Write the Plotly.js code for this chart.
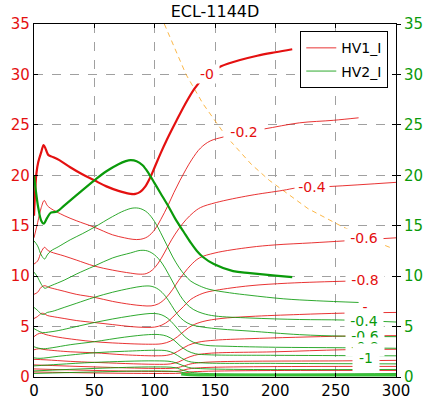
<!DOCTYPE html>
<html><head><meta charset="utf-8">
<script src="https://cdn.plot.ly/plotly-3.0.1.min.js"></script>
<style>html,body{margin:0;padding:0;background:#fff}#chart{width:426px;height:399px}</style>
</head><body><div id="chart"></div>
<script>
// ---- data ----
const xTicks = [0, 50, 100, 150, 200, 250, 300];
const yTicks = [0, 5, 10, 15, 20, 25, 30, 35];

// HV1_I (red) branches
const r0x = [0,1,2,3.5,6,8,10,12,16,21,30,40,50,60,70,76,80,84,88,92,96,100,105,110,118,125,133,140,148,155,170,185,200,214];
const r0y = [16,18.5,20.2,21.3,22.3,23.0,22.5,22.0,21.8,21.5,20.8,20.1,19.5,18.9,18.45,18.25,18.15,18.15,18.35,18.85,19.7,20.8,22.2,23.5,25.4,27.0,28.6,29.6,30.3,30.8,31.4,31.85,32.2,32.5];
const r1x = [0,3,6,8.5,11,14,25,35,50,65,75,82,88,94,100,105,111,116,121,126,131,138,146,157,174,191,220,248,269];
const r1y = [13.8,15.3,16.8,17.5,17.0,16.7,16.0,15.5,14.85,14.1,13.8,13.65,13.65,13.9,14.6,15.6,17.0,18.3,19.5,20.6,21.6,22.7,23.4,23.8,24.3,24.6,25.2,25.45,25.7];
const r2x = [0,3,6,8.8,11,14,25,35,50,65,80,87,93,98,103,108,114,120,126,132,138,151,179,206,218,247,300];
const r2y = [11.2,11.5,12.4,12.86,12.6,12.4,12.0,11.6,11.0,10.6,10.3,10.2,10.25,10.6,11.3,12.3,13.6,14.7,15.6,16.3,16.8,17.3,18.0,18.5,18.75,18.9,19.3];
const r3x = [0,3,6,9,12,15,25,35,50,65,80,90,97,103,109,115,120,125,130,137,150,179,200,230,258,300];
const r3y = [8.2,8.4,8.9,9.05,8.9,8.8,8.5,8.2,7.9,7.5,7.2,7.07,7.05,7.25,7.8,8.7,9.6,10.4,11.1,11.8,12.3,12.86,13.1,13.3,13.5,13.8];
const r4x = [0,3,6,8,11,15,25,35,50,65,80,92,100,106,112,118,124,130,140,151,179,210,258,280];
const r4y = [5.8,6.0,6.3,6.3,6.1,6.0,5.8,5.6,5.4,5.2,5.0,4.92,4.95,5.15,5.6,6.3,7.0,7.7,8.3,8.6,9.05,9.3,9.5,9.55];
const r5x = [0,3,6,10,20,35,50,70,95,106,113,119,125,131,140,155,179,220,256,300];
const r5y = [4.0,4.25,4.35,4.2,3.95,3.7,3.5,3.35,3.25,3.3,3.55,4.0,4.6,5.1,5.5,5.8,6.0,6.2,6.33,6.4];
const r6x = [0,4,10,30,50,75,100,110,116,122,128,136,150,179,256,300];
const r6y = [2.7,2.8,2.7,2.5,2.4,2.2,2.1,2.15,2.35,2.75,3.15,3.45,3.65,3.8,4.05,4.1];
const r7x = [0,10,30,50,100,113,120,126,133,145,200,256,300];
const r7y = [1.75,1.7,1.55,1.45,1.26,1.3,1.5,1.85,2.15,2.35,2.5,2.7,2.75];
const r8x = [0,50,100,116,123,130,145,256,300];
const r8y = [1.2,1.0,0.85,0.88,1.05,1.3,1.48,1.6,1.65];
const r9x = [0,50,100,120,128,140,300];
const r9y = [0.8,0.65,0.55,0.58,0.8,0.93,1.05];
const r10x = [0,50,100,122,132,300];
const r10y = [0.5,0.4,0.35,0.38,0.52,0.65];

// HV2_I (green) branches
const g0x = [0,1.5,3.5,6,8,11,14,19,25,35,50,60,70,76,80,85,90,95,100,105,111,117,124,130,135,140,149,165,179,200,214];
const g0y = [20,18.5,16.8,15.5,15.2,15.8,16.3,16.4,17.0,18.0,19.5,20.4,21.1,21.4,21.5,21.4,21.0,20.2,19.2,18.2,17.0,15.7,14.4,13.3,12.5,11.9,11.2,10.5,10.3,10.05,9.9];
const g1x = [0,3,6,8.8,11,14,20,30,40,50,65,75,82,88,94,100,105,110,115,120,125,130,137,145,162,179,207,234,269];
const g1y = [13.5,13.0,12.1,11.7,12.1,12.5,12.9,13.6,14.2,14.85,15.9,16.5,16.75,16.7,16.3,15.4,14.3,13.1,11.9,10.9,10.1,9.5,9.05,8.7,8.35,8.1,7.75,7.56,7.39];
const g2x = [0,3,6,9,12,15,25,35,50,65,80,88,94,100,106,111,116,121,126,132,140,150,179,220,256,300];
const g2y = [10.4,9.9,9.2,8.8,8.95,9.1,9.6,10.2,11.0,11.8,12.3,12.55,12.5,12.1,11.3,10.3,9.2,8.1,7.3,6.7,6.3,6.05,5.85,5.7,5.65,5.45];
const g3x = [0,3,6,8,11,15,25,35,50,65,80,90,97,103,109,114,119,124,130,140,155,179,220,256,300];
const g3y = [6.9,6.6,6.25,6.2,6.4,6.5,6.9,7.3,7.9,8.4,8.8,9.0,9.0,8.7,8.0,7.1,6.2,5.6,5.2,4.95,4.75,4.55,4.2,4.05,4.0];
const g4x = [0,3,7,12,20,35,50,65,80,92,100,106,111,116,121,126,132,142,160,200,256,300];
const g4y = [4.8,4.6,4.4,4.45,4.6,5.0,5.4,5.75,6.05,6.25,6.3,6.15,5.8,5.2,4.5,3.9,3.45,3.15,3.05,2.95,2.9,2.85];
const g5x = [0,4,8,15,30,50,75,95,104,110,116,121,127,134,145,200,300];
const g5y = [3.0,2.85,2.8,2.9,3.2,3.5,3.95,4.2,4.2,4.05,3.65,3.1,2.6,2.3,2.2,2.15,2.1];
const g6x = [0,5,20,50,75,100,110,116,122,128,140,200,300];
const g6y = [1.9,1.85,2.05,2.4,2.55,2.65,2.6,2.35,1.9,1.55,1.4,1.35,1.3];
const g7x = [0,20,50,100,114,121,128,140,300];
const g7y = [1.1,1.25,1.45,1.6,1.52,1.25,0.95,0.82,0.75];
const g8x = [0,50,100,117,124,133,300];
const g8y = [0.6,0.85,1.0,0.92,0.65,0.42,0.35];
const g9x = [0,50,100,120,128,140,300];
const g9y = [0.35,0.5,0.6,0.52,0.32,0.22,0.2];
const g10x = [122,130,140,200,300];
const g10y = [0.3,0.22,0.2,0.2,0.2];

// light line (orange dashed)
const lightX = [108,115,126,140,159,180,195,227,254,275,296];
const lightY = [35,33.0,30.0,27.1,23.9,21.1,19.5,16.7,15.0,13.8,12.8];

// contour-style labels
const redLabels   = [{t:'-0',x:143.4,y:30.05,w:22},{t:'-0.2',x:174,y:24.3,w:38},{t:'-0.4',x:230,y:18.84,w:32},
                     {t:'-0.6',x:273.5,y:13.78,w:36},{t:'-0.8',x:274,y:9.62,w:36},{t:'-',x:274.5,y:6.97,w:8}];
const greenLabels = [{t:'-0.4',x:273.5,y:5.6,w:36},{t:'-0.6',x:274.3,y:4.1,w:36},{t:'-0.8',x:274.3,y:2.97,w:36}];
const greenLast   = {t:'-1',x:275,y:1.88};

// ---- build ----
const RED = '#e41010', GREEN = '#0a9a0a';
const reds = [[r0x,r0y],[r1x,r1y],[r2x,r2y],[r3x,r3y],[r4x,r4y],[r5x,r5y],[r6x,r6y],[r7x,r7y],[r8x,r8y],[r9x,r9y],[r10x,r10y]];
const greens = [[g0x,g0y],[g1x,g1y],[g2x,g2y],[g3x,g3y],[g4x,g4y],[g5x,g5y],[g6x,g6y],[g7x,g7y],[g8x,g8y],[g9x,g9y]];

const traces = [];
traces.push({x:lightX, y:lightY, mode:'lines', line:{color:'rgba(250,170,40,0.85)', width:1, dash:'5px,4px'}, showlegend:false, hoverinfo:'skip'});
reds.forEach((d,i)=>{
  traces.push({x:d[0], y:d[1], mode:'lines', name:'HV1_I', legendgroup:'hv1',
    showlegend: i===1, line:{color:RED, width: i===0?2.2:1, shape:'spline', smoothing:1}, opacity: i===0?1:0.85});
});
greens.forEach((d,i)=>{
  traces.push({x:d[0], y:d[1], yaxis:'y2', mode:'lines', name:'HV2_I', legendgroup:'hv2',
    showlegend: i===1, line:{color:GREEN, width: i===0?2.2:1, shape:'spline', smoothing:1}, opacity: i===0?1:0.85});
});
traces.push({x:g10x, y:g10y, yaxis:'y2', mode:'lines', name:'HV2_I', legendgroup:'hv2', showlegend:false,
  line:{color:'#38c038', width:3, shape:'spline', smoothing:1}});

const ann = [];
redLabels.forEach(l=>ann.push({x:l.x, y:l.y, xref:'x', yref:'y', text:l.t, showarrow:false,
  font:{family:'DejaVu Sans', size:14, color:RED}, bgcolor:'white', width:l.w, borderpad:1}));
greenLabels.forEach(l=>ann.push({x:l.x, y:l.y, xref:'x', yref:'y', text:l.t, showarrow:false,
  font:{family:'DejaVu Sans', size:14, color:GREEN}, bgcolor:'white', width:l.w, borderpad:1}));
ann.push({x:greenLast.x, y:greenLast.y, xref:'x', yref:'y', text:greenLast.t, showarrow:false,
  font:{family:'DejaVu Sans', size:14, color:GREEN}, bgcolor:'white', width:26, height:28, borderpad:0, valign:'middle'});

const layout = {
  width:426, height:399,
  margin:{l:34, r:30, t:24, b:22, pad:0},
  paper_bgcolor:'white', plot_bgcolor:'white',
  font:{family:'DejaVu Sans', color:'black'},
  title:{text:'ECL-1144D', font:{family:'DejaVu Sans', size:16, color:'black'}, x:0.5, xref:'paper', y:0.972, yref:'container', yanchor:'middle'},
  xaxis:{range:[0,300], tickvals:xTicks, ticktext:xTicks.map(String), showline:true, linecolor:'black', linewidth:1.2, mirror:'ticks',
    ticks:'inside', ticklen:4, tickcolor:'black', tickfont:{size:15, color:'black'},
    showgrid:true, gridcolor:'#a0a0a0', griddash:'dash', gridwidth:1, zeroline:false, fixedrange:true},
  yaxis:{range:[0,35], tickvals:yTicks, ticktext:yTicks.map(String), showline:true, linecolor:'black', linewidth:1.2, mirror:'ticks',
    ticks:'inside', ticklen:4, tickcolor:'black', tickfont:{size:15, color:RED},
    showgrid:true, gridcolor:'#a0a0a0', griddash:'dash', gridwidth:1, zeroline:false},
  yaxis2:{range:[0,35], tickvals:yTicks, ticktext:yTicks.map(String), overlaying:'y', side:'right', showline:false,
    ticks:'outside', ticklen:4, tickcolor:'black', tickfont:{size:15, color:GREEN}, showgrid:false, zeroline:false},
  legend:{x:0.735, y:0.98, xanchor:'left', yanchor:'top', bgcolor:'white', bordercolor:'black', borderwidth:1.2,
    font:{family:'DejaVu Sans', size:14, color:'black'}, tracegroupgap:2},
  annotations: ann,
  showlegend:true
};
Plotly.newPlot('chart', traces, layout, {displayModeBar:false, staticPlot:true});
</script></body></html>
